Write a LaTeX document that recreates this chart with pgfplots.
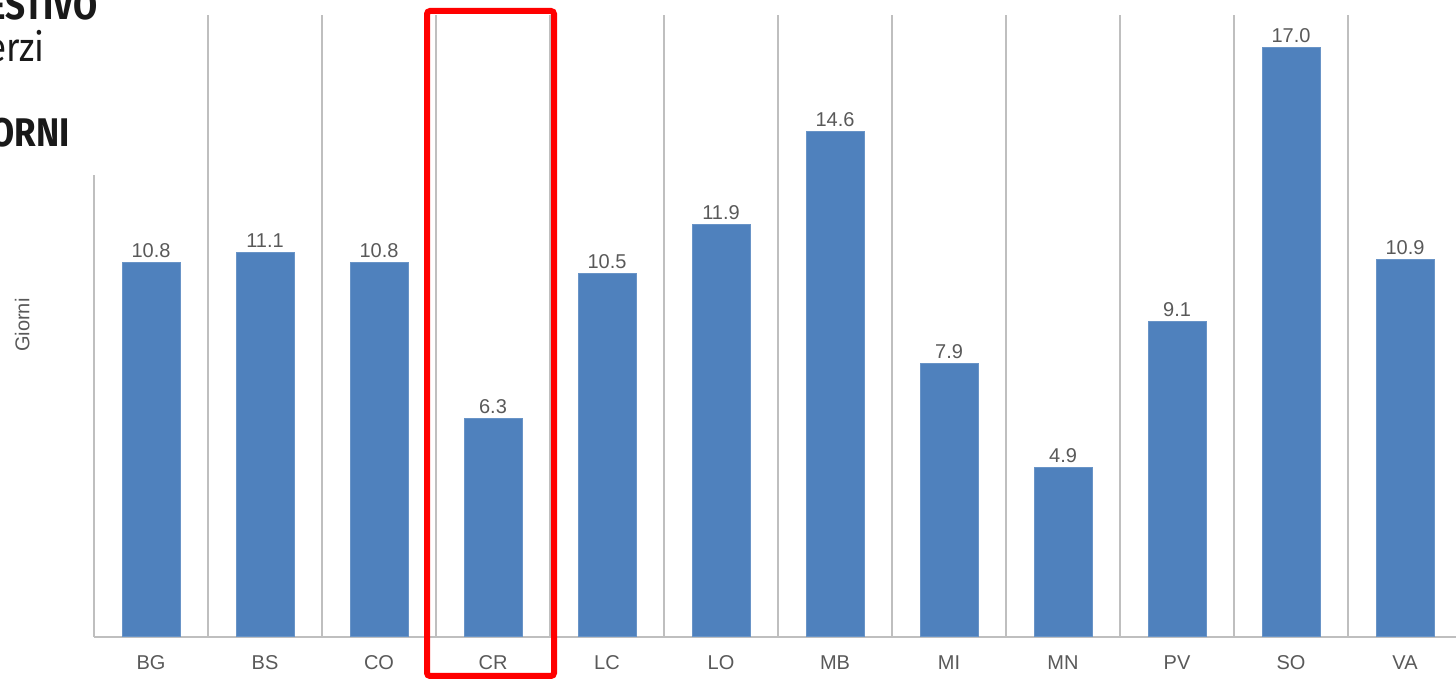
\documentclass[border=0pt]{standalone}
\usepackage{graphicx}
\usepackage{fontspec}
\setmainfont{Liberation Sans}
\newfontfamily\titlefont{Fira Sans}
\usepackage{pgfplots}
\pgfplotsset{compat=1.18}
\definecolor{barblue}{HTML}{4F81BD}
\definecolor{txtgray}{HTML}{595959}
\definecolor{gridgray}{HTML}{BFBFBF}
\begin{document}
\begin{tikzpicture}[x=1pt,y=1pt]
\useasboundingbox (0,0) rectangle (728,339.5);
\begin{axis}[
  at={(47pt,21pt)}, anchor=south west,
  scale only axis, width=681pt, height=311pt,
  xmin=-0.5, xmax=11.447, ymin=0, ymax=17.95,
  axis x line*=bottom, axis y line*=left,
  y axis line style={draw=none},
  x axis line style={draw=gridgray, line width=1pt, -},
  ytick=\empty,
  xtick={0,...,11},
  xticklabels={BG,BS,CO,CR,LC,LO,MB,MI,MN,PV,SO,VA},
  major tick length=0pt, minor tick length=0pt,
  minor xtick={0.5,1.5,...,10.5},
  xminorgrids,
  minor grid style={draw=gridgray, line width=1pt},
  xticklabel style={text=txtgray, font=\fontsize{10}{12}\selectfont, anchor=base, yshift=-16.5pt},
  ylabel={Giorni},
  ylabel style={at={(axis cs:-1.13,9)}, anchor=center, text=txtgray, font=\fontsize{10}{12}\selectfont},
  ybar, bar width=29pt,
  /pgf/number format/assume math mode=true,
  nodes near coords={\pgfmathprintnumber[fixed,fixed zerofill,precision=1,assume math mode=true]{\pgfplotspointmeta}},
  every node near coord/.append style={text=txtgray, font=\fontsize{10}{12}\selectfont, anchor=base, yshift=2.5pt},
  clip=false,
]
\addplot[fill=barblue, draw=barblue!85!white, line width=0.5pt] coordinates {
 (0,10.8) (1,11.1) (2,10.8) (3,6.3) (4,10.5) (5,11.9)
 (6,14.6) (7,7.9) (8,4.9) (9,9.1) (10,17.0) (11,10.9)};
\draw[gridgray, line width=1pt] (axis cs:-0.5,0) -- (axis cs:-0.5,13.33);
\end{axis}
\node[anchor=base east, text=black!90, font=\titlefont\bfseries\fontsize{20}{24}\selectfont, inner sep=0pt] at (49,329.5) {\scalebox{0.875}[1]{ESTIVO}};
\node[anchor=base east, text=black!90, font=\titlefont\fontsize{20}{24}\selectfont, inner sep=0pt] at (22.5,308.5) {\scalebox{0.875}[1]{erzi}};
\node[anchor=base east, text=black!90, font=\titlefont\bfseries\fontsize{20}{24}\selectfont, inner sep=0pt] at (35,266) {\scalebox{0.875}[1]{ORNI}};
\draw[red, line width=3pt, rounded corners=1.5pt] (213.5,1.5) rectangle (277,334);
\end{tikzpicture}
\end{document}
